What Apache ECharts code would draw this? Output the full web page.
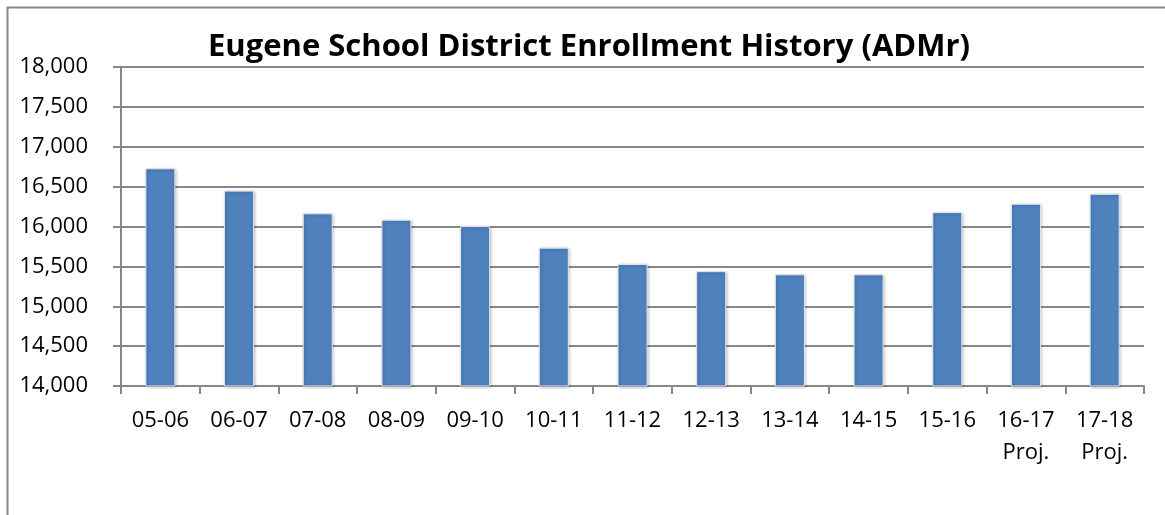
<!DOCTYPE html>
<html>
<head>
<meta charset="utf-8">
<script src="https://cdn.jsdelivr.net/npm/echarts@6/dist/echarts.min.js"></script>
<style>
html,body{margin:0;padding:0;background:#fff;}
#chart{width:1165px;height:515px;}
</style>
</head>
<body>
<div id="chart"></div>
<script>
var titleText = 'Eugene School District Enrollment History (ADMr)';
var categories = ['05-06','06-07','07-08','08-09','09-10','10-11','11-12','12-13','13-14','14-15','15-16','16-17\nProj.','17-18\nProj.'];
var enrollment = [16730, 16450, 16165, 16085, 16005, 15735, 15530, 15440, 15400, 15400, 16180, 16285, 16410];
var yMin = 14000, yMax = 18000, yStep = 500;

var chart = echarts.init(document.getElementById('chart'), null, {renderer:'canvas'});
var lineColor = '#878787';
chart.setOption({
  animation:false,
  backgroundColor:'#ffffff',
  graphic:[{
    type:'rect', left:5, top:5, z:-1,
    shape:{width:1220, height:530},
    style:{fill:'none', stroke:lineColor, lineWidth:2}
  }],
  title:{
    text:titleText, left:584, top:27, textAlign:'center',
    textStyle:{fontFamily:'Open Sans', fontWeight:'bold', fontSize:31, color:'#000'}
  },
  grid:{left:121, right:21, top:67, bottom:129, containLabel:false},
  xAxis:{
    type:'category', data:categories, boundaryGap:true,
    axisLine:{lineStyle:{color:lineColor, width:2}},
    axisTick:{show:true, length:8, alignWithLabel:false, lineStyle:{color:lineColor, width:2}},
    axisLabel:{fontFamily:'Open Sans', fontSize:22, color:'#000', margin:19, lineHeight:32, interval:0}
  },
  yAxis:{
    type:'value', min:yMin, max:yMax, interval:yStep,
    axisLine:{show:true, lineStyle:{color:lineColor, width:2}},
    axisTick:{show:true, length:8, lineStyle:{color:lineColor, width:2}},
    splitLine:{lineStyle:{color:lineColor, width:2}},
    axisLabel:{fontFamily:'Open Sans', fontSize:22, color:'#000', margin:33,
      formatter:function(v){return v.toLocaleString('en-US');}}
  },
  series:[{
    type:'bar', data:enrollment, barWidth:30,
    itemStyle:{color:'#4F81BD', borderColor:'#dfe6ef', borderWidth:1,
      shadowColor:'rgba(0,0,0,0.25)', shadowBlur:3, shadowOffsetX:1, shadowOffsetY:1}
  }]
});
</script>
</body>
</html>
